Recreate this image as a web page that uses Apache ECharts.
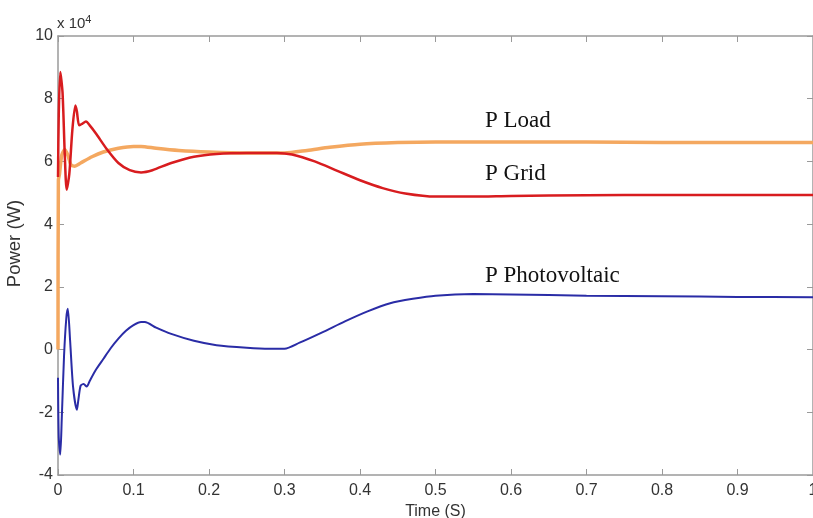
<!DOCTYPE html>
<html>
<head>
<meta charset="utf-8">
<script src="https://cdn.jsdelivr.net/npm/echarts@6/dist/echarts.min.js"></script>
<style>html,body{margin:0;padding:0;background:#fff;overflow:hidden}#c{width:813px;height:518px}</style>
</head>
<body>
<div id="c"></div>
<script>
// values in units of 1e4 W
var xTicks = ['0','0.1','0.2','0.3','0.4','0.5','0.6','0.7','0.8','0.9','1'];
var yTicks = ['-4','-2','0','2','4','6','8','10'];

var tLoad = [0, 0.0005, 0.002, 0.005, 0.009, 0.013, 0.017, 0.022, 0.03, 0.045, 0.06, 0.08, 0.1, 0.11, 0.13, 0.16, 0.2, 0.25, 0.3, 0.33, 0.36, 0.4, 0.45, 0.5, 0.6, 0.7, 0.8, 0.9, 1.0];
var pLoad = [0, 5.4, 5.6, 6.2, 6.38, 6.2, 5.9, 5.85, 5.95, 6.15, 6.3, 6.42, 6.48, 6.48, 6.42, 6.35, 6.3, 6.27, 6.27, 6.35, 6.45, 6.55, 6.6, 6.62, 6.62, 6.62, 6.6, 6.6, 6.6];

var tGrid = [0, 0.001, 0.003, 0.006, 0.009, 0.0115, 0.015, 0.019, 0.023, 0.025, 0.028, 0.032, 0.037, 0.042, 0.05, 0.065, 0.08, 0.095, 0.11, 0.125, 0.15, 0.18, 0.21, 0.25, 0.29, 0.31, 0.34, 0.37, 0.4, 0.43, 0.46, 0.5, 0.55, 0.6, 0.7, 0.8, 0.9, 1.0];
var pGrid = [5.5, 7.5, 8.85, 8.2, 6.2, 5.1, 5.6, 7.0, 7.78, 7.6, 7.15, 7.2, 7.27, 7.15, 6.9, 6.38, 5.95, 5.72, 5.65, 5.72, 5.95, 6.15, 6.24, 6.27, 6.27, 6.22, 6.0, 5.7, 5.4, 5.15, 4.98, 4.88, 4.88, 4.9, 4.92, 4.93, 4.93, 4.93];

var tPV = [0, 0.001, 0.003, 0.005, 0.008, 0.011, 0.013, 0.016, 0.02, 0.025, 0.027, 0.03, 0.034, 0.038, 0.042, 0.05, 0.06, 0.07, 0.08, 0.09, 0.1, 0.11, 0.115, 0.13, 0.15, 0.18, 0.21, 0.25, 0.28, 0.3, 0.32, 0.35, 0.38, 0.41, 0.44, 0.47, 0.5, 0.55, 0.6, 0.7, 0.8, 0.9, 1.0];
var pPV = [-0.9, -2.8, -3.35, -2.2, -0.2, 1.0, 1.3, 0.3, -1.2, -1.92, -1.6, -1.15, -1.1, -1.18, -1.0, -0.65, -0.3, 0.05, 0.35, 0.6, 0.78, 0.88, 0.88, 0.7, 0.5, 0.28, 0.14, 0.06, 0.03, 0.03, 0.22, 0.55, 0.9, 1.22, 1.48, 1.62, 1.72, 1.77, 1.76, 1.72, 1.7, 1.68, 1.67];

var labels = ['P Load', 'P Grid', 'P Photovoltaic'];

function pairs(t, v) { return t.map(function (x, i) { return [x, v[i]]; }); }

var axisCol = '#9a9a9a';
var tickFont = { fontFamily: 'Liberation Sans, Arial, sans-serif', fontSize: 16, color: '#333' };
function line() { return { show: true, onZero: false, lineStyle: { color: axisCol, width: 1.5 } }; }
function tick() { return { show: true, inside: true, length: 6, lineStyle: { color: axisCol } }; }

var chart = echarts.init(document.getElementById('c'));
chart.setOption({
  animation: false,
  backgroundColor: '#fff',
  grid: { left: 58, right: 0, top: 36, bottom: 43, containLabel: false, outerBoundsMode: 'none' },
  xAxis: [{
    type: 'value', min: 0, max: 1, interval: 0.1, position: 'bottom',
    name: 'Time (S)', nameLocation: 'middle', nameGap: 26,
    nameTextStyle: { fontFamily: 'Liberation Sans, Arial, sans-serif', fontSize: 16, color: '#333' },
    axisLine: line(), axisTick: tick(),
    axisLabel: Object.assign({ margin: 8, hideOverlap: false, formatter: function (v) { return xTicks[Math.round(v * 10)]; } }, tickFont),
    splitLine: { show: false }
  }, {
    type: 'value', min: 0, max: 1, interval: 0.1, position: 'top',
    axisLine: line(), axisTick: tick(),
    axisLabel: { show: false }, splitLine: { show: false }
  }],
  yAxis: [{
    type: 'value', min: -4, max: 10, interval: 2, position: 'left',
    name: 'Power (W)', nameLocation: 'middle', nameGap: 23, nameRotate: 90,
    nameTextStyle: { fontFamily: 'Liberation Sans, Arial, sans-serif', fontSize: 18.5, color: '#333', padding: [0, 0, 0, 24] },
    axisLine: line(), axisTick: tick(),
    axisLabel: Object.assign({ margin: 5, formatter: function (v) { return yTicks[Math.round((v + 4) / 2)]; } }, tickFont),
    splitLine: { show: false }
  }, {
    type: 'value', min: -4, max: 10, interval: 2, position: 'right',
    axisLine: line(), axisTick: tick(),
    axisLabel: { show: false }, splitLine: { show: false }
  }],
  series: [{
    name: labels[0], type: 'line', data: pairs(tLoad, pLoad), showSymbol: false, smooth: 0.25,
    lineStyle: { color: '#f4a860', width: 3.5 }, z: 2
  }, {
    name: labels[1], type: 'line', data: pairs(tGrid, pGrid), showSymbol: false, smooth: 0.25,
    lineStyle: { color: '#d81c1f', width: 2.5 }, z: 3
  }, {
    name: labels[2], type: 'line', data: pairs(tPV, pPV), showSymbol: false, smooth: 0.25,
    lineStyle: { color: '#2a2ca6', width: 2 }, z: 3
  }],
  graphic: [
    { type: 'text', left: 57, top: 14, style: { text: 'x 10{s|4}', rich: { s: { fontSize: 11, verticalAlign: 'top', padding: [0, 0, 8, 0] } }, font: '15px Liberation Sans, Arial, sans-serif', fill: '#333' } },
    { type: 'text', x: 485, y: 121, style: { text: labels[0], font: '23px Liberation Serif, Times New Roman, serif', fill: '#111', verticalAlign: 'middle' } },
    { type: 'text', x: 485, y: 174, style: { text: labels[1], font: '23px Liberation Serif, Times New Roman, serif', fill: '#111', verticalAlign: 'middle' } },
    { type: 'text', x: 485, y: 276, style: { text: labels[2], font: '23px Liberation Serif, Times New Roman, serif', fill: '#111', verticalAlign: 'middle' } }
  ]
});
</script>
</body>
</html>
